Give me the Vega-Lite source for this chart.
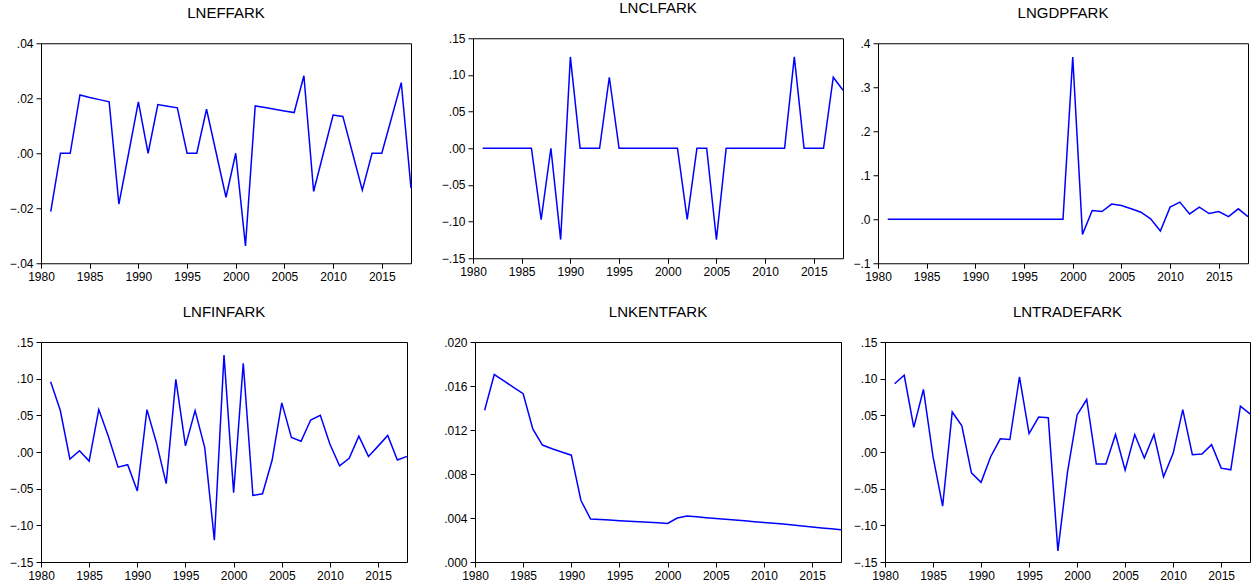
{
  "$schema": "https://vega.github.io/schema/vega-lite/v6.json",
  "padding": {"left": 0, "top": 0, "right": 0, "bottom": 0},
  "background": "white",
  "data": {"values": [
    {"year": 1981, "LNEFFARK": -0.0212, "LNCLFARK": 0, "LNGDPFARK": 0, "LNFINFARK": 0.0959, "LNKENTFARK": 0.0138, "LNTRADEFARK": 0.0931},
    {"year": 1982, "LNEFFARK": 0, "LNCLFARK": 0, "LNGDPFARK": 0, "LNFINFARK": 0.0569, "LNKENTFARK": 0.01704, "LNTRADEFARK": 0.1046},
    {"year": 1983, "LNEFFARK": 0, "LNCLFARK": 0, "LNGDPFARK": 0, "LNFINFARK": -0.0096, "LNKENTFARK": 0.01646, "LNTRADEFARK": 0.0335},
    {"year": 1984, "LNEFFARK": 0.0212, "LNCLFARK": 0, "LNGDPFARK": 0, "LNFINFARK": 0.0018, "LNKENTFARK": 0.01588, "LNTRADEFARK": 0.0853},
    {"year": 1985, "LNEFFARK": 0.0203, "LNCLFARK": 0, "LNGDPFARK": 0, "LNFINFARK": -0.0124, "LNKENTFARK": 0.0153, "LNTRADEFARK": -0.0064},
    {"year": 1986, "LNEFFARK": 0.0195, "LNCLFARK": 0, "LNGDPFARK": 0, "LNFINFARK": 0.0578, "LNKENTFARK": 0.0121, "LNTRADEFARK": -0.0739},
    {"year": 1987, "LNEFFARK": 0.0187, "LNCLFARK": -0.0973, "LNGDPFARK": 0, "LNFINFARK": 0.021, "LNKENTFARK": 0.01063, "LNTRADEFARK": 0.0546},
    {"year": 1988, "LNEFFARK": -0.0185, "LNCLFARK": 0, "LNGDPFARK": 0, "LNFINFARK": -0.0206, "LNKENTFARK": 0.0103, "LNTRADEFARK": 0.0358},
    {"year": 1989, "LNEFFARK": 0, "LNCLFARK": -0.1245, "LNGDPFARK": 0, "LNFINFARK": -0.0174, "LNKENTFARK": 0.0100, "LNTRADEFARK": -0.0284},
    {"year": 1990, "LNEFFARK": 0.0187, "LNCLFARK": 0.1245, "LNGDPFARK": 0, "LNFINFARK": -0.0532, "LNKENTFARK": 0.00971, "LNTRADEFARK": -0.0413},
    {"year": 1991, "LNEFFARK": 0, "LNCLFARK": 0, "LNGDPFARK": 0, "LNFINFARK": 0.0578, "LNKENTFARK": 0.00559, "LNTRADEFARK": -0.0064},
    {"year": 1992, "LNEFFARK": 0.0177, "LNCLFARK": 0, "LNGDPFARK": 0, "LNFINFARK": 0.012, "LNKENTFARK": 0.00391, "LNTRADEFARK": 0.0179},
    {"year": 1993, "LNEFFARK": 0.0171, "LNCLFARK": 0, "LNGDPFARK": 0, "LNFINFARK": -0.0431, "LNKENTFARK": 0.00386, "LNTRADEFARK": 0.017},
    {"year": 1994, "LNEFFARK": 0.0165, "LNCLFARK": 0.0968, "LNGDPFARK": 0, "LNFINFARK": 0.0991, "LNKENTFARK": 0.00381, "LNTRADEFARK": 0.1023},
    {"year": 1995, "LNEFFARK": 0, "LNCLFARK": 0, "LNGDPFARK": 0, "LNFINFARK": 0.0083, "LNKENTFARK": 0.00376, "LNTRADEFARK": 0.0252},
    {"year": 1996, "LNEFFARK": 0, "LNCLFARK": 0, "LNGDPFARK": 0, "LNFINFARK": 0.0564, "LNKENTFARK": 0.00371, "LNTRADEFARK": 0.0477},
    {"year": 1997, "LNEFFARK": 0.016, "LNCLFARK": 0, "LNGDPFARK": 0, "LNFINFARK": 0.006, "LNKENTFARK": 0.00366, "LNTRADEFARK": 0.0468},
    {"year": 1998, "LNEFFARK": 0, "LNCLFARK": 0, "LNGDPFARK": 0, "LNFINFARK": -0.1202, "LNKENTFARK": 0.00361, "LNTRADEFARK": -0.1349},
    {"year": 1999, "LNEFFARK": -0.016, "LNCLFARK": 0, "LNGDPFARK": 0, "LNFINFARK": 0.1321, "LNKENTFARK": 0.00356, "LNTRADEFARK": -0.0275},
    {"year": 2000, "LNEFFARK": 0, "LNCLFARK": 0, "LNGDPFARK": 0.3687, "LNFINFARK": -0.0555, "LNKENTFARK": 0.00351, "LNTRADEFARK": 0.0505},
    {"year": 2001, "LNEFFARK": -0.0337, "LNCLFARK": 0, "LNGDPFARK": -0.0344, "LNFINFARK": 0.1211, "LNKENTFARK": 0.0040, "LNTRADEFARK": 0.0716},
    {"year": 2002, "LNEFFARK": 0.0172, "LNCLFARK": -0.097, "LNGDPFARK": 0.0198, "LNFINFARK": -0.0592, "LNKENTFARK": 0.00418, "LNTRADEFARK": -0.0165},
    {"year": 2003, "LNEFFARK": 0.0166, "LNCLFARK": 0, "LNGDPFARK": 0.0176, "LNFINFARK": -0.0569, "LNKENTFARK": 0.00411, "LNTRADEFARK": -0.0165},
    {"year": 2004, "LNEFFARK": 0.016, "LNCLFARK": 0, "LNGDPFARK": 0.0344, "LNFINFARK": -0.011, "LNKENTFARK": 0.00403, "LNTRADEFARK": 0.0239},
    {"year": 2005, "LNEFFARK": 0.0154, "LNCLFARK": -0.1245, "LNGDPFARK": 0.0313, "LNFINFARK": 0.067, "LNKENTFARK": 0.00396, "LNTRADEFARK": -0.0248},
    {"year": 2006, "LNEFFARK": 0.0148, "LNCLFARK": 0, "LNGDPFARK": 0.024, "LNFINFARK": 0.0197, "LNKENTFARK": 0.00389, "LNTRADEFARK": 0.0239},
    {"year": 2007, "LNEFFARK": 0.0282, "LNCLFARK": 0, "LNGDPFARK": 0.016, "LNFINFARK": 0.0147, "LNKENTFARK": 0.00382, "LNTRADEFARK": -0.0083},
    {"year": 2008, "LNEFFARK": -0.0139, "LNCLFARK": 0, "LNGDPFARK": 0.001, "LNFINFARK": 0.0436, "LNKENTFARK": 0.00374, "LNTRADEFARK": 0.0239},
    {"year": 2009, "LNEFFARK": 0, "LNCLFARK": 0, "LNGDPFARK": -0.0267, "LNFINFARK": 0.05, "LNKENTFARK": 0.00367, "LNTRADEFARK": -0.0339},
    {"year": 2010, "LNEFFARK": 0.0139, "LNCLFARK": 0, "LNGDPFARK": 0.0275, "LNFINFARK": 0.0106, "LNKENTFARK": 0.0036, "LNTRADEFARK": -0.0018},
    {"year": 2011, "LNEFFARK": 0.0134, "LNCLFARK": 0, "LNGDPFARK": 0.039, "LNFINFARK": -0.0188, "LNKENTFARK": 0.00352, "LNTRADEFARK": 0.0578},
    {"year": 2012, "LNEFFARK": 0, "LNCLFARK": 0, "LNGDPFARK": 0.0122, "LNFINFARK": -0.0087, "LNKENTFARK": 0.00345, "LNTRADEFARK": -0.0037},
    {"year": 2013, "LNEFFARK": -0.0134, "LNCLFARK": 0.1245, "LNGDPFARK": 0.0275, "LNFINFARK": 0.0216, "LNKENTFARK": 0.00336, "LNTRADEFARK": -0.0028},
    {"year": 2014, "LNEFFARK": 0, "LNCLFARK": 0, "LNGDPFARK": 0.013, "LNFINFARK": -0.006, "LNKENTFARK": 0.00328, "LNTRADEFARK": 0.0101},
    {"year": 2015, "LNEFFARK": 0, "LNCLFARK": 0, "LNGDPFARK": 0.0176, "LNFINFARK": 0.008, "LNKENTFARK": 0.00319, "LNTRADEFARK": -0.022},
    {"year": 2016, "LNEFFARK": 0.0128, "LNCLFARK": 0, "LNGDPFARK": 0.0061, "LNFINFARK": 0.0225, "LNKENTFARK": 0.0031, "LNTRADEFARK": -0.0243},
    {"year": 2017, "LNEFFARK": 0.0257, "LNCLFARK": 0.0968, "LNGDPFARK": 0.0237, "LNFINFARK": -0.011, "LNKENTFARK": 0.00302, "LNTRADEFARK": 0.0624},
    {"year": 2018, "LNEFFARK": -0.0127, "LNCLFARK": 0.079, "LNGDPFARK": 0.006, "LNFINFARK": -0.006, "LNKENTFARK": 0.00293, "LNTRADEFARK": 0.0519}
  ]},
  "config": {
    "font": "Liberation Sans",
    "view": {"stroke": "black", "strokeWidth": 1},
    "title": {"fontSize": 15, "fontWeight": "normal", "color": "black", "font": "Liberation Sans", "offset": 16},
    "axis": {"grid": false, "domain": false, "tickColor": "black", "tickSize": 5, "labelFontSize": 12, "labelColor": "black", "labelFont": "Liberation Sans", "labelPadding": 3},
    "line": {"color": "#0000ff", "strokeWidth": 1.5}
  },
  "spacing": 16,
  "vconcat": [
    {
      "spacing": 0,
      "center": true,
      "hconcat": [
        {
          "title": "LNEFFARK",
          "width": 370, "height": 220,
          "mark": "line",
          "encoding": {
            "x": {"field": "year", "type": "quantitative", "title": null, "scale": {"domain": [1980, 2018], "nice": false, "zero": false}, "axis": {"values": [1980, 1985, 1990, 1995, 2000, 2005, 2010, 2015], "format": "d", "labelFlush": false}},
            "y": {"field": "LNEFFARK", "type": "quantitative", "title": null, "scale": {"domain": [-0.04, 0.04], "nice": false, "zero": false}, "axis": {"values": [-0.04, -0.02, 0, 0.02, 0.04], "labelExpr": "replace(format(datum.value, '.2f'), '0.', '.')", "minExtent": 40, "maxExtent": 40}}
          }
        },
        {
          "title": "LNCLFARK",
          "width": 370, "height": 220,
          "mark": "line",
          "encoding": {
            "x": {"field": "year", "type": "quantitative", "scale": {"domain": [1980, 2018], "nice": false, "zero": false}, "axis": {"values": [1980, 1985, 1990, 1995, 2000, 2005, 2010, 2015], "format": "d", "labelFlush": false, "title": " ", "titleFontSize": 10, "titlePadding": 0}},
            "y": {"field": "LNCLFARK", "type": "quantitative", "title": null, "scale": {"domain": [-0.15, 0.15], "nice": false, "zero": false}, "axis": {"values": [-0.15, -0.1, -0.05, 0, 0.05, 0.1, 0.15], "labelExpr": "replace(format(datum.value, '.2f'), '0.', '.')", "minExtent": 57, "maxExtent": 57}}
          }
        },
        {
          "title": "LNGDPFARK",
          "width": 370, "height": 220,
          "mark": "line",
          "encoding": {
            "x": {"field": "year", "type": "quantitative", "title": null, "scale": {"domain": [1980, 2018], "nice": false, "zero": false}, "axis": {"values": [1980, 1985, 1990, 1995, 2000, 2005, 2010, 2015], "format": "d", "labelFlush": false}},
            "y": {"field": "LNGDPFARK", "type": "quantitative", "title": null, "scale": {"domain": [-0.1, 0.4], "nice": false, "zero": false}, "axis": {"values": [-0.1, 0, 0.1, 0.2, 0.3, 0.4], "labelExpr": "replace(format(datum.value, '.1f'), '0.', '.')", "minExtent": 30, "maxExtent": 30}}
          }
        }
      ]
    },
    {
      "spacing": 0,
      "hconcat": [
        {
          "title": "LNFINFARK",
          "width": 366, "height": 220,
          "mark": "line",
          "encoding": {
            "x": {"field": "year", "type": "quantitative", "title": null, "scale": {"domain": [1980, 2018], "nice": false, "zero": false}, "axis": {"values": [1980, 1985, 1990, 1995, 2000, 2005, 2010, 2015], "format": "d", "labelFlush": false}},
            "y": {"field": "LNFINFARK", "type": "quantitative", "title": null, "scale": {"domain": [-0.15, 0.15], "nice": false, "zero": false}, "axis": {"values": [-0.15, -0.1, -0.05, 0, 0.05, 0.1, 0.15], "labelExpr": "replace(format(datum.value, '.2f'), '0.', '.')", "minExtent": 40, "maxExtent": 40}}
          }
        },
        {
          "title": "LNKENTFARK",
          "width": 366, "height": 220,
          "mark": "line",
          "encoding": {
            "x": {"field": "year", "type": "quantitative", "title": null, "scale": {"domain": [1980, 2018], "nice": false, "zero": false}, "axis": {"values": [1980, 1985, 1990, 1995, 2000, 2005, 2010, 2015], "format": "d", "labelFlush": false}},
            "y": {"field": "LNKENTFARK", "type": "quantitative", "title": null, "scale": {"domain": [0, 0.02], "nice": false, "zero": false}, "axis": {"values": [0, 0.004, 0.008, 0.012, 0.016, 0.02], "labelExpr": "replace(format(datum.value, '.3f'), '0.', '.')", "minExtent": 63, "maxExtent": 63}}
          }
        },
        {
          "title": "LNTRADEFARK",
          "width": 365, "height": 220,
          "mark": "line",
          "encoding": {
            "x": {"field": "year", "type": "quantitative", "title": null, "scale": {"domain": [1980, 2018], "nice": false, "zero": false}, "axis": {"values": [1980, 1985, 1990, 1995, 2000, 2005, 2010, 2015], "format": "d", "labelFlush": false}},
            "y": {"field": "LNTRADEFARK", "type": "quantitative", "title": null, "scale": {"domain": [-0.15, 0.15], "nice": false, "zero": false}, "axis": {"values": [-0.15, -0.1, -0.05, 0, 0.05, 0.1, 0.15], "labelExpr": "replace(format(datum.value, '.2f'), '0.', '.')", "minExtent": 39, "maxExtent": 39}}
          }
        }
      ]
    }
  ]
}
